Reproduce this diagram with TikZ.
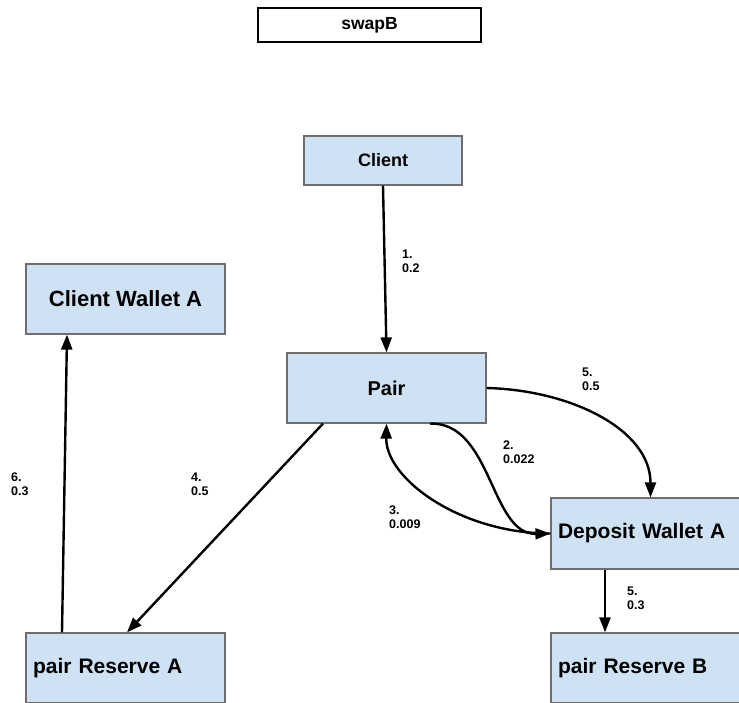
\documentclass[tikz,border=0pt]{standalone}
\usepackage{fontspec}
\setmainfont{Liberation Sans}
\usetikzlibrary{arrows.meta}
\definecolor{boxfill}{HTML}{CFE2F3}
\definecolor{boxline}{HTML}{6E6E6E}
\begin{document}
\begin{tikzpicture}[x=1pt,y=-1pt,
  bluebox/.style={draw=boxline,line width=1.2pt,fill=boxfill,minimum width=199pt,minimum height=70pt,inner sep=0pt,font=\fontsize{21}{25}\selectfont\bfseries},
  leftbox/.style={bluebox,align=left,text width=185pt,inner xsep=7pt},
  lbl/.style={anchor=north west,inner sep=0pt,align=left,font=\fontsize{12.5}{14}\selectfont\bfseries},
  arr/.style={line width=2.4pt,-{Triangle[length=15pt,width=11pt]}}]
\useasboundingbox (0,0) rectangle (739,702);
\clip (0,0) rectangle (739,702);
\fill[white] (0,0) rectangle (739,702);
\node[draw=black,line width=2pt,fill=white,minimum width=223pt,minimum height=34pt,inner sep=0pt,font=\fontsize{17.5}{20}\selectfont\bfseries] (title) at (369.5,25) {swapB};
\node[bluebox,minimum width=158pt,minimum height=49pt,font=\fontsize{18}{21}\selectfont\bfseries] (client) at (383,160.5) {Client};
\node[bluebox,font=\fontsize{22}{26}\selectfont\bfseries] (cwa) at (125.5,299) {Client Wallet A};
\node[bluebox,font=\fontsize{20}{24}\selectfont\bfseries] (pair) at (386.5,388) {Pair};
\node[leftbox,minimum height=71pt] (dep) at (650.5,533.5) {Deposit Wallet A};
\node[leftbox] (pra) at (125.5,668) {pair Reserve A};
\node[leftbox] (prb) at (650.5,668) {pair Reserve B};
% connectors
\draw[arr] (client.south) -- (pair.north);
\draw[arr] ([xshift=43.5pt]pair.south) .. controls +(62,-2) and +(-60,1.5) .. (dep.west);
\draw[arr] (dep.west) .. controls +(-90,0) and +(-1,55) .. (pair.south);
\draw[arr] ([xshift=-63.5pt]pair.south) -- ([xshift=1.5pt]pra.north);
\draw[arr] (pair.east) .. controls +(84,2) and +(0,-68) .. (dep.north);
\draw[arr] ([xshift=-45.5pt]dep.south) -- ([xshift=-45.5pt]prb.north);
\draw[arr] ([xshift=-63.5pt]pra.north) -- ([xshift=-58.5pt]cwa.south);
% labels
\node[lbl] (l1) at (402,249.5) {1.\\0.2};
\node[lbl] (l2) at (503,440.5) {2.\\0.022};
\node[lbl] (l3) at (389,505.5) {3.\\0.009};
\node[lbl] (l4) at (191,472.5) {4.\\0.5};
\node[lbl] (l5) at (582,367.5) {5.\\0.5};
\node[lbl] (l5b) at (627,586.5) {5.\\0.3};
\node[lbl] (l6) at (11,472.5) {6.\\0.3};
\end{tikzpicture}
\end{document}
